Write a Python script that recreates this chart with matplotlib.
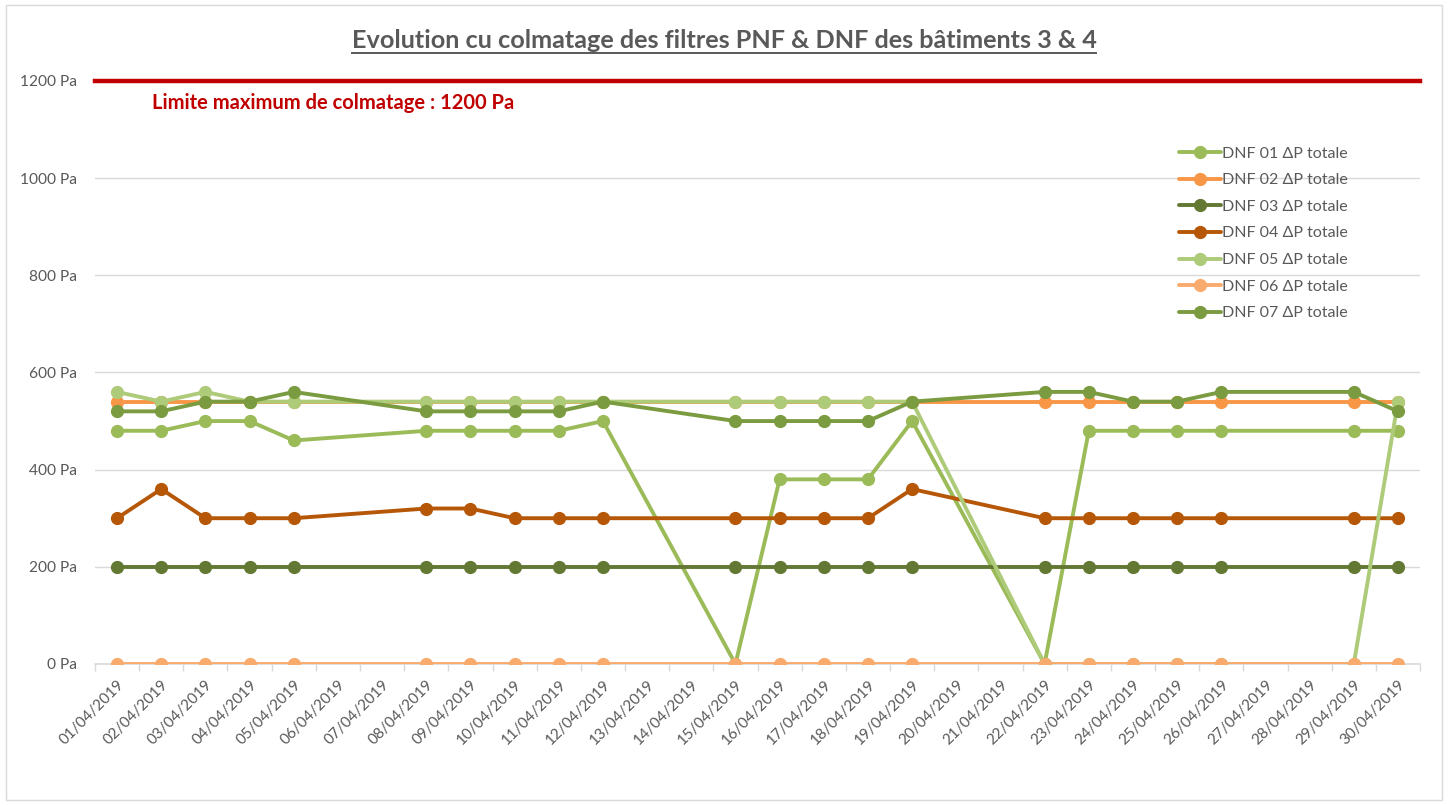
import matplotlib
matplotlib.use("Agg")
import matplotlib.pyplot as plt
import matplotlib.transforms as mtransforms
from matplotlib.lines import Line2D
from matplotlib.patches import Rectangle

plt.rcParams['font.family'] = ['Lato', 'DejaVu Sans']

# categories: every day of April 2019
dates = [f"{d:02d}/04/2019" for d in range(1, 31)]

# days with a measurement (index into dates)
measured = [0, 1, 2, 3, 4, 7, 8, 9, 10, 11, 14, 15, 16, 17, 18,
            21, 22, 23, 24, 25, 28, 29]

dnf01 = [480, 480, 500, 500, 460, 480, 480, 480, 480, 500, 0, 380, 380, 380, 500,
         0, 480, 480, 480, 480, 480, 480]
dnf02 = [540, 540, 540, 540, 540, 540, 540, 540, 540, 540, 540, 540, 540, 540, 540,
         540, 540, 540, 540, 540, 540, 540]
dnf03 = [200, 200, 200, 200, 200, 200, 200, 200, 200, 200, 200, 200, 200, 200, 200,
         200, 200, 200, 200, 200, 200, 200]
dnf04 = [300, 360, 300, 300, 300, 320, 320, 300, 300, 300, 300, 300, 300, 300, 360,
         300, 300, 300, 300, 300, 300, 300]
dnf05 = [560, 540, 560, 540, 540, 540, 540, 540, 540, 540, 540, 540, 540, 540, 540,
         0, 0, 0, 0, 0, 0, 540]
dnf06 = [0, 0, 0, 0, 0, 0, 0, 0, 0, 0, 0, 0, 0, 0, 0,
         0, 0, 0, 0, 0, 0, 0]
dnf07 = [520, 520, 540, 540, 560, 520, 520, 520, 520, 540, 500, 500, 500, 500, 540,
         560, 560, 540, 540, 560, 560, 520]

series = [dnf01, dnf02, dnf03, dnf04, dnf05, dnf06, dnf07]
labels = ["DNF 01 ΔP totale", "DNF 02 ΔP totale", "DNF 03 ΔP totale", "DNF 04 ΔP totale",
          "DNF 05 ΔP totale", "DNF 06 ΔP totale", "DNF 07 ΔP totale"]
colors = ["#9BBB59", "#F79646", "#627833", "#B65708", "#AECB7A", "#F9AB6E", "#7B9B41"]

limit = 1200
y_ticks = [0, 200, 400, 600, 800, 1000, 1200]

txt = "#595959"
grid = "#D9D9D9"

fig = plt.figure(figsize=(14.48, 8.05), dpi=100)
ax = fig.add_axes([0.0656, 0.1752, 0.9151, 0.7242])

for vals, lab, col in zip(series, labels, colors):
    ax.plot(measured, vals, color=col, lw=2.8, marker='o', markersize=8.5,
            label=lab, solid_capstyle='round', zorder=3)

# limit line
ax.axhline(limit, color="#C00000", lw=3.2, zorder=4, clip_on=False)
ax.text(0.043, 1155, f"Limite maximum de colmatage : {limit} Pa",
        transform=mtransforms.blended_transform_factory(ax.transAxes, ax.transData),
        color="#C00000", fontsize=14.5, fontweight='bold', va='center', ha='left')

ax.set_xlim(-0.5, len(dates) - 0.5)
ax.set_ylim(0, 1200)

ax.set_yticks(y_ticks)
ax.set_yticklabels([f"{v} Pa" for v in y_ticks])
ax.set_xticks(range(len(dates)))
ax.set_xticklabels(dates, rotation=45, ha='right', rotation_mode='anchor')
ax.set_xticks([i - 0.5 for i in range(len(dates) + 1)], minor=True)

ax.tick_params(axis='x', which='major', length=0, pad=10, labelsize=11, labelcolor=txt)
ax.tick_params(axis='x', which='minor', length=5, color=grid, width=1)
ax.tick_params(axis='y', length=0, pad=13, labelsize=11.2, labelcolor=txt)

ax.grid(axis='y', color=grid, lw=1, zorder=0)
for s in ['top', 'left', 'right']:
    ax.spines[s].set_visible(False)
ax.spines['bottom'].set_color(grid)
ax.spines['bottom'].set_linewidth(1.2)

leg = fig.legend(loc='upper left', bbox_to_anchor=(1165 / 1448, 1 - 132 / 805),
                 frameon=False, fontsize=11.5, labelcolor=txt, handlelength=2.6,
                 handletextpad=0.05, labelspacing=0.78)

# title with underline
title = fig.text(0.5, 1 - 40 / 805, "Evolution cu colmatage des filtres PNF & DNF des bâtiments 3 & 4",
                 ha='center', va='center', fontsize=18.2, fontweight='bold', color=txt)
fig.canvas.draw()
bb = title.get_window_extent().transformed(fig.transFigure.inverted())
fig.add_artist(Line2D([bb.x0, bb.x1], [bb.y0 - 0.002, bb.y0 - 0.002],
                      color=txt, lw=1.4, transform=fig.transFigure))

# chart frame
fig.add_artist(Rectangle((0.004, 0.006), 0.992, 0.988, transform=fig.transFigure,
                         fill=False, edgecolor=grid, lw=1))

fig.savefig("out.png", dpi=100)
